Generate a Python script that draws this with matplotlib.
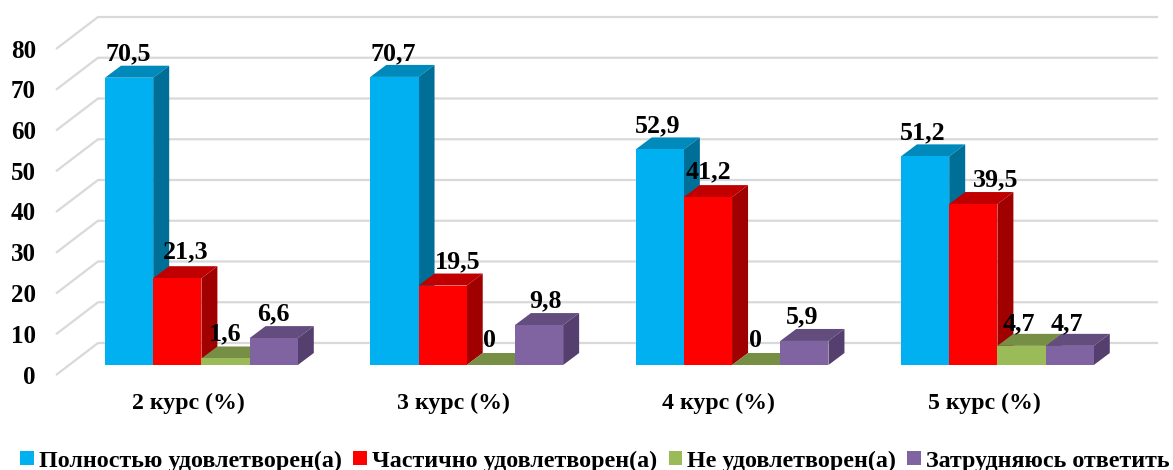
import matplotlib
matplotlib.use("Agg")
import matplotlib.pyplot as plt
from matplotlib.patches import Polygon, Patch

plt.rcParams['font.family'] = ['Liberation Serif', 'DejaVu Serif']
plt.rcParams['font.weight'] = 'bold'

categories = ['2 курс (%)', '3 курс (%)', '4 курс (%)', '5 курс (%)']
series_names = ['Полностью удовлетворен(а)', 'Частично удовлетворен(а)',
                'Не удовлетворен(а)', 'Затрудняюсь ответить']
polno = [70.5, 70.7, 52.9, 51.2]
chast = [21.3, 19.5, 41.2, 39.5]
ne = [1.6, 0, 0, 4.7]
zatr = [6.6, 9.8, 5.9, 4.7]
series = [polno, chast, ne, zatr]
y_ticks = [0, 10, 20, 30, 40, 50, 60, 70, 80]

front = ['#00B0F0', '#FF0000', '#9BBB59', '#8064A2']
top = ['#0089BB', '#C00000', '#778F44', '#634D7E']
side = ['#006F98', '#A00000', '#62753A', '#553F6E']
# label nudges in pixels, per series then group
label_nudge = [[-1, -1, -2, -2], [8, 15, 0, 22], [0, -1, -1, -3], [0, 6, -2, -3]]
label_lift = [[17, 17, 17, 17], [20, 17, 19, 18], [18, 18, 18, 16], [18, 18, 18, 16]]

W, H = 1173, 470
PX_PER_UNIT = 4.075      # pixels per value unit
GROUP_PX = 265.33        # pixels per group
X0, Y0 = 105, 365        # front-left baseline of the first group
BAR_PX = 48.2

fig = plt.figure(figsize=(W / 100, H / 100), dpi=100)
ax = fig.add_axes([0, 0, 1, 1])
ax.set_xlim(-X0 / GROUP_PX, (W - X0) / GROUP_PX)
ax.set_ylim((Y0 - H) / PX_PER_UNIT, Y0 / PX_PER_UNIT)
ax.axis('off')

def dx(px):
    return px / GROUP_PX

def dy(px):
    return px / PX_PER_UNIT

# back wall gridlines and the slanted side wall
grid = '#D9D9D9'
for v in y_ticks:
    yb = v + dy(22)
    yf = v - dy(10)
    ax.plot([dx(56 - X0), dx(98 - X0), dx(1158 - X0)], [yf, yb, yb],
            color=grid, lw=1.6, solid_capstyle='butt', zorder=1)
    ax.text(dx(36 - X0), yf + dy(-2), str(v), ha='right', va='center',
            fontsize=18, color='black', zorder=6)

bw = dx(BAR_PX)
ox, oy = dx(16), dy(12)
for g in range(len(categories)):
    for s, vals in enumerate(series):
        v = vals[g]
        x = g + s * bw
        z = 2 + s * 0.1
        ax.add_patch(Polygon([(x, v), (x + bw, v), (x + bw + ox, v + oy), (x + ox, v + oy)],
                             closed=True, fc=top[s], ec='none', zorder=z))
        if v > 0:
            ax.add_patch(Polygon([(x + bw, 0), (x + bw + ox, oy), (x + bw + ox, v + oy), (x + bw, v)],
                                 closed=True, fc=side[s], ec='none', zorder=z))
            ax.bar(x, v, width=bw, align='edge', color=front[s], zorder=z)

for g in range(len(categories)):
    for s, vals in enumerate(series):
        v = vals[g]
        ax.text(g + (s + 0.5) * bw + dx(label_nudge[s][g]), v + dy(label_lift[s][g]),
                f'{v:g}'.replace('.', ','), ha='center', va='baseline',
                fontsize=18.7, color='black', zorder=7)
    ax.text(g + dx(83), dy(-38), categories[g], ha='center', va='center',
            fontsize=17.2, color='black', zorder=6)

handles = [Patch(fc=c, ec='none', label=n) for c, n in zip(front, series_names)]
leg = ax.legend(handles=handles, loc='center', bbox_to_anchor=(595 / W, 1 - 461 / H), ncol=4,
                frameon=False, fontsize=17.3, handlelength=0.55, handleheight=0.55,
                handletextpad=0.22, columnspacing=0.48, borderpad=0, borderaxespad=0)
fig.savefig('out.png', dpi=100)
